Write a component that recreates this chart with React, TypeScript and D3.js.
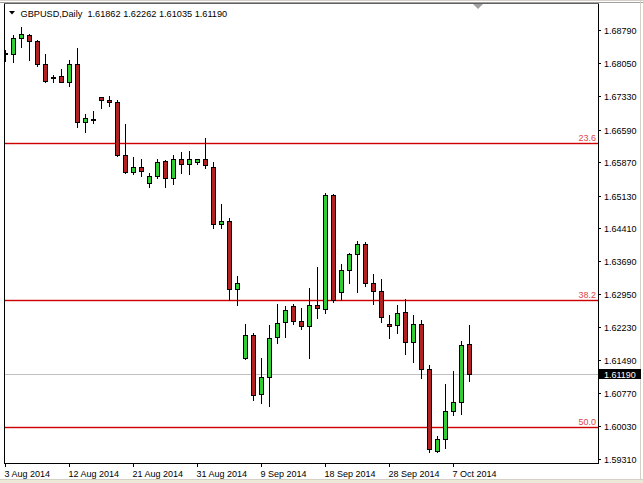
import React from "react";
import * as d3 from "d3";

const symbolTitle = "GBPUSD,Daily";
const lastOHLC = ["1.61862", "1.62262", "1.61035", "1.61190"];

const dates = [
  "2014-08-03","2014-08-04","2014-08-05","2014-08-06","2014-08-07","2014-08-08",
  "2014-08-10","2014-08-11","2014-08-12","2014-08-13","2014-08-14","2014-08-15",
  "2014-08-17","2014-08-18","2014-08-19","2014-08-20","2014-08-21","2014-08-22",
  "2014-08-24","2014-08-25","2014-08-26","2014-08-27","2014-08-28","2014-08-29",
  "2014-08-31","2014-09-01","2014-09-02","2014-09-03","2014-09-04","2014-09-05",
  "2014-09-07","2014-09-08","2014-09-09","2014-09-10","2014-09-11","2014-09-12",
  "2014-09-14","2014-09-15","2014-09-16","2014-09-17","2014-09-18","2014-09-19",
  "2014-09-21","2014-09-22","2014-09-23","2014-09-24","2014-09-25","2014-09-26",
  "2014-09-28","2014-09-29","2014-09-30","2014-10-01","2014-10-02","2014-10-03",
  "2014-10-05","2014-10-06","2014-10-07","2014-10-08","2014-10-09",
];

const opens = [
  1.6828,1.6825,1.6861,1.6869,1.6855,1.6803,1.6773,1.6777,1.6764,1.6803,
  1.6676,1.6682,1.6730,1.6725,1.6720,1.6602,1.6565,1.6577,1.6541,1.6557,
  1.6590,1.6552,1.6595,1.6583,1.6588,1.6593,1.6577,1.6450,1.6457,1.6307,
  1.6155,1.6205,1.6075,1.6113,1.6201,1.6233,1.6270,1.6235,1.6226,1.6272,
  1.6262,1.6514,1.6300,1.6348,1.6384,1.6405,1.6319,1.6303,1.6230,1.6227,
  1.6255,1.6190,1.6230,1.6129,1.5949,1.5975,1.6038,1.6056,1.61862,
];
const highs = [
  1.6835,1.6868,1.6886,1.6870,1.6857,1.6825,1.6780,1.6792,1.6813,1.6840,
  1.6693,1.6700,1.6732,1.6734,1.6724,1.6671,1.6598,1.6594,1.6562,1.6595,
  1.6592,1.6603,1.6610,1.6612,1.6595,1.6640,1.6587,1.6494,1.6463,1.6336,
  1.6229,1.6209,1.6154,1.6227,1.6274,1.6269,1.6274,1.6264,1.6308,1.6355,
  1.6519,1.6516,1.6363,1.6387,1.6413,1.6410,1.6340,1.6328,1.6249,1.6271,
  1.6284,1.6249,1.6238,1.6139,1.5982,1.6097,1.6125,1.6192,1.62262,
];
const lows = [
  1.6811,1.6809,1.6842,1.6813,1.6799,1.6763,1.6765,1.6763,1.6755,1.6665,
  1.6654,1.6673,1.6706,1.6710,1.6601,1.6563,1.6560,1.6557,1.6531,1.6553,
  1.6533,1.6539,1.6564,1.6560,1.6582,1.6575,1.6441,1.6441,1.6282,1.6271,
  1.6153,1.6061,1.6055,1.6048,1.6188,1.6200,1.6229,1.6218,1.6155,1.6242,
  1.6253,1.6279,1.6282,1.6319,1.6299,1.6313,1.6273,1.6234,1.6198,1.6210,
  1.6162,1.6145,1.6109,1.5947,1.5947,1.5955,1.6028,1.6030,1.61035,
];
const closes = [
  1.6825,1.6861,1.6870,1.6855,1.6804,1.6767,1.6776,1.6764,1.6803,1.6676,
  1.6685,1.6683,1.6725,1.6720,1.6602,1.6565,1.6577,1.6567,1.6556,1.6587,
  1.6552,1.6595,1.6583,1.6594,1.6593,1.6580,1.6450,1.6457,1.6307,1.6319,
  1.6205,1.6072,1.6112,1.6199,1.6232,1.6261,1.6235,1.6226,1.6272,1.6264,
  1.6514,1.6282,1.6349,1.6384,1.6407,1.6320,1.6303,1.6245,1.6225,1.6254,
  1.6190,1.6230,1.6130,1.5953,1.5976,1.6037,1.6056,1.6183,1.61190,
];

const priceTicks = [
  1.6879,1.6805,1.6733,1.6659,1.6587,1.6513,1.6441,1.6369,1.6295,1.6223,1.6149,1.6077,1.6003,1.5931,
];
const dateTickIndex = [0, 8, 16, 24, 32, 40, 48, 56];
const dateTickLabels = [
  "3 Aug 2014","12 Aug 2014","21 Aug 2014","31 Aug 2014","9 Sep 2014","18 Sep 2014","28 Sep 2014","7 Oct 2014",
];
const fibLevels = ["23.6", "38.2", "50.0"];
const fibPrices = [1.66295, 1.6283, 1.60025];
const currentPrice = 1.6119;

const W = 643, H = 483;
const left = 4, right = 598, top = 4, bottom = 463;
const FONT = "'Liberation Sans', Arial, sans-serif";

export default function App() {
  const y = d3.scaleLinear().domain([1.5931, 1.6879]).range([459, 30]);
  const x = d3.scaleLinear().domain([0, dates.length - 1]).range([5, 5 + 8 * (dates.length - 1)]);
  const py = (v: number) => Math.round(y(v));
  const data = dates.map((d, i) => ({ d, o: opens[i], h: highs[i], l: lows[i], c: closes[i], i }));

  return (
    <div style={{ position: "fixed", left: 0, top: 0, width: W, height: H, background: "#fff" }}>
      <svg width={W} height={H} style={{ display: "block" }} shapeRendering="crispEdges">
        <defs>
          <clipPath id="plotclip">
            <rect x={left + 1} y={top + 1} width={right - left - 1} height={bottom - top - 1} />
          </clipPath>
        </defs>
        <rect x={0} y={0} width={W} height={H} fill="#fff" />
        {/* outer window border */}
        <line x1={0} x2={W} y1={0.5} y2={0.5} stroke="#d4d0c8" />
        <line x1={0} x2={W} y1={2.5} y2={2.5} stroke="#a0a0a0" />
        <line x1={W - 2.5} x2={W - 2.5} y1={0} y2={H} stroke="#d4d0c8" />
        <line x1={0} x2={W} y1={H - 3.5} y2={H - 3.5} stroke="#d4d0c8" />
        <rect x={0} y={H - 3} width={W} height={3} fill="#ece9d8" />
        {/* plot frame */}
        <line x1={left + 0.5} x2={left + 0.5} y1={top} y2={bottom + 1} stroke="#000" />
        <line x1={left} x2={right + 1} y1={bottom + 0.5} y2={bottom + 0.5} stroke="#000" />
        <line x1={right + 0.5} x2={right + 0.5} y1={top} y2={bottom + 1} stroke="#000" />
        <line x1={left} x2={right + 1} y1={top - 0.5} y2={top - 0.5} stroke="#606060" />

        <g clipPath="url(#plotclip)">
          {/* current price line */}
          <rect x={left} y={py(currentPrice)} width={right - left} height={1} fill="#c0c0c0" />
          {/* fib lines */}
          {fibPrices.map((p, i) => (
            <g key={i}>
              <rect x={left} y={py(p) - 1} width={right - left} height={3} fill="#f4caca" />
              <rect x={left} y={py(p)} width={right - left} height={1} fill="#cc0000" />
            </g>
          ))}
          {fibPrices.map((p, i) => (
            <text key={"t" + i} x={right - 2} y={py(p) - 2} textAnchor="end" fontFamily={FONT} fontSize={9} fill="#e04848" shapeRendering="auto">
              {fibLevels[i]}
            </text>
          ))}
          {/* candles */}
          {data.map((b) => {
            const cx = Math.round(x(b.i));
            const up = b.c >= b.o;
            const yt = py(Math.max(b.o, b.c));
            const yb = py(Math.min(b.o, b.c));
            return (
              <g key={b.d}>
                <line x1={cx + 0.5} x2={cx + 0.5} y1={py(b.h)} y2={py(b.l) + 1} stroke="#000" />
                <rect x={cx - 1.5} y={yt + 0.5} width={4} height={Math.max(yb - yt, 1)} fill={up ? "#32cd32" : "#b22222"} stroke="#000" />
              </g>
            );
          })}
        </g>

        {/* chart shift marker */}
        <path d="M473,4 L483,4 L478,9 Z" fill="#a0a0a0" shapeRendering="auto" />

        {/* header */}
        <path d="M9,11 L15,11 L12,14.5 Z" fill="#000" shapeRendering="auto" />
        <text x={20.5} y={16.5} fontFamily={FONT} fontSize={9.2} fill="#000" xmlSpace="preserve" style={{ whiteSpace: "pre" }}>
          {symbolTitle + "  " + lastOHLC.join(" ")}
        </text>

        {/* right axis */}
        {priceTicks.map((p) => (
          <g key={p}>
            <line x1={right} x2={right + 3} y1={py(p) + 0.5} y2={py(p) + 0.5} stroke="#000" />
            <text x={604} y={py(p) + 3.5} fontFamily={FONT} fontSize={9} fill="#000">
              {d3.format(".5f")(p)}
            </text>
          </g>
        ))}
        <rect x={599} y={py(currentPrice) - 5} width={42} height={10} fill="#000" />
        <text x={604} y={py(currentPrice) + 3.5} fontFamily={FONT} fontSize={9} fill="#fff">
          {d3.format(".5f")(currentPrice)}
        </text>

        {/* bottom axis */}
        {dateTickIndex.map((idx, i) => {
          const tx = Math.round(x(idx));
          return (
            <g key={idx}>
              <line x1={tx + 0.5} x2={tx + 0.5} y1={bottom} y2={bottom + 4} stroke="#000" />
              <text x={tx - 0.5} y={476.5} fontFamily={FONT} fontSize={9} fill="#000">
                {dateTickLabels[i]}
              </text>
            </g>
          );
        })}
      </svg>
    </div>
  );
}
